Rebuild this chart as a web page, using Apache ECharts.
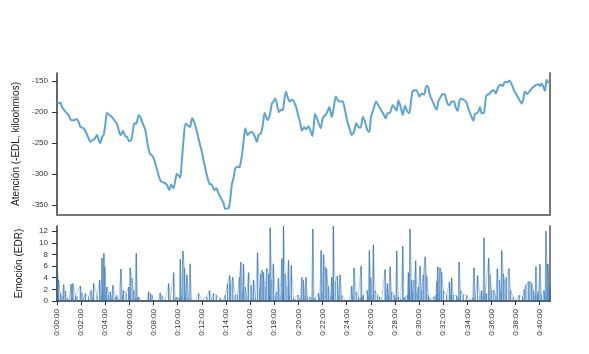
<!DOCTYPE html>
<html>
<head>
<meta charset="utf-8">
<script src="https://cdn.jsdelivr.net/npm/echarts@6/dist/echarts.min.js"></script>
<style>
  html, body { margin: 0; padding: 0; background: #fff; }
  #main { width: 589px; height: 354px; }
</style>
</head>
<body>
<div id="main"></div>
<script>
// segundos desde el inicio de la sesion
var edlSeconds = [0,17,25,41,58,70,86,96,108,116,
  132,146,157,166,179,190,199,207,215,224,
  232,240,248,262,273,285,298,311,318,328,
  339,348,359,369,378,384,394,406,414,427,
  439,447,460,477,489,505,517,533,546,558,
  568,580,588,596,604,613,621,629,638,649,
  662,671,682,696,709,720,732,745,758,770,
  782,792,803,815,828,836,853,861,869,878,
  886,898,907,914,924,936,947,957,969,980,
  994,1002,1013,1023,1032,1040,1048,1060,1068,1076,
  1085,1093,1103,1115,1123,1129,1138,1146,1156,1167,
  1176,1189,1201,1209,1217,1229,1238,1250,1262,1270,
  1278,1283,1295,1311,1321,1333,1341,1354,1366,1374,
  1386,1396,1407,1421,1432,1444,1457,1465,1477,1487,
  1498,1510,1520,1532,1543,1553,1561,1573,1586,1598,
  1609,1623,1634,1644,1656,1669,1681,1689,1697,1709,
  1719,1730,1742,1752,1760,1768,1780,1788,1802,1813,
  1825,1835,1843,1855,1868,1879,1888,1896,1908,1917,
  1929,1941,1951,1962,1974,1982,1992,2000,2009,2020,
  2033,2045,2057,2070,2078,2086,2095,2103,2111,2123,
  2133,2139,2149,2161,2172,2182,2194,2206,2216,2227,
  2239,2249,2260,2272,2285,2298,2310,2318,2326,2338,
  2348,2360,2371,2381,2393,2401,2409,2418,2426,2434,
  2442,2451];
var edlValues = [-186,-185,-192,-199,-205,-213,-213,-211,-216,-224,
  -226,-234,-242,-248,-245,-242,-237,-245,-250,-240,
  -237,-221,-201,-205,-208,-213,-219,-234,-237,-230,
  -239,-240,-247,-245,-229,-218,-219,-205,-208,-219,
  -229,-245,-266,-272,-283,-302,-312,-314,-317,-326,
  -317,-323,-310,-300,-302,-306,-277,-245,-219,-221,
  -224,-210,-216,-232,-250,-264,-283,-302,-316,-317,
  -326,-323,-331,-339,-347,-356,-355,-342,-317,-306,
  -291,-288,-289,-280,-259,-226,-237,-234,-232,-237,
  -248,-237,-235,-221,-201,-208,-213,-202,-186,-183,
  -178,-186,-200,-196,-197,-183,-167,-175,-183,-180,
  -182,-192,-208,-217,-230,-224,-228,-223,-232,-239,
  -216,-203,-213,-226,-210,-205,-202,-192,-208,-197,
  -175,-181,-183,-183,-197,-216,-229,-237,-232,-218,
  -224,-225,-208,-216,-229,-232,-208,-196,-183,-189,
  -196,-203,-210,-202,-201,-189,-194,-198,-181,-192,
  -205,-190,-199,-202,-183,-166,-165,-165,-175,-170,
  -172,-159,-158,-174,-183,-192,-196,-183,-175,-171,
  -172,-186,-189,-183,-183,-192,-198,-183,-178,-180,
  -183,-194,-205,-214,-203,-202,-199,-192,-202,-201,
  -175,-172,-171,-166,-165,-170,-159,-156,-158,-151,
  -152,-149,-155,-165,-172,-180,-186,-180,-167,-171,
  -167,-162,-159,-156,-155,-158,-154,-159,-166,-148,
  -152,-153];

var edrSeconds = [0,8,17,25,33,41,50,60,70,75,
  79,91,99,116,124,132,141,157,169,176,
  182,199,212,219,224,228,233,238,243,248,
  257,265,272,278,290,298,308,318,325,331,
  344,356,361,364,373,381,389,394,401,406,
  422,447,455,464,472,480,505,513,522,538,
  555,563,580,588,596,608,613,619,626,634,
  639,646,654,662,669,687,704,720,745,758,
  768,778,792,811,825,836,848,858,864,874,
  886,897,907,914,921,927,935,944,952,964,
  970,977,987,997,1007,1013,1020,1027,1035,1043,
  1052,1057,1060,1068,1076,1085,1093,1101,1109,1118,
  1123,1126,1134,1143,1151,1156,1165,1176,1184,1198,
  1209,1217,1225,1232,1238,1245,1258,1265,1272,1278,
  1283,1300,1306,1313,1318,1325,1333,1341,1349,1358,
  1366,1371,1374,1383,1394,1401,1407,1416,1432,1454,
  1465,1470,1477,1487,1498,1507,1512,1518,1523,1543,
  1548,1553,1560,1566,1573,1581,1593,1603,1614,1631,
  1636,1643,1649,1656,1664,1676,1682,1689,1697,1709,
  1719,1725,1730,1742,1747,1752,1755,1763,1768,1775,
  1783,1790,1797,1805,1813,1821,1830,1838,1846,1854,
  1874,1884,1888,1893,1899,1904,1912,1921,1937,1951,
  1957,1962,1970,1987,1994,1999,2007,2020,2037,2053,
  2066,2073,2080,2091,2103,2111,2118,2123,2129,2136,
  2146,2153,2161,2172,2182,2189,2199,2206,2211,2219,
  2227,2235,2247,2255,2268,2285,2298,2315,2323,2331,
  2343,2351,2360,2368,2376,2381,2388,2393,2401,2409,
  2421,2426,2431,2437,2442,2447,2451];
var edrValues = [5.7,3.6,1.3,0.9,2.8,1.7,0.5,0.2,2.9,0.6,
  3.0,1.0,0.8,2.6,1.4,0.4,1.3,0.7,1.8,0.4,
  3.0,1.0,3.6,0.8,7.4,2.0,8.2,5.9,1.0,2.4,
  1.0,1.6,0.5,2.7,0.7,1.0,0.3,5.5,0.8,1.8,
  1.3,2.4,1.0,5.7,3.9,1.8,0.5,8.2,0.6,0.7,
  0.1,0.1,1.6,1.3,1.0,0.1,0.1,1.4,0.9,0.1,
  3.0,0.3,4.9,0.5,0.7,0.5,7.2,1.0,8.6,5.6,
  0.8,4.5,0.5,6.4,0.2,0.1,1.3,0.1,0.7,1.8,
  0.3,1.3,1.0,0.5,0.1,1.0,3.0,4.4,3.0,4.1,
  1.0,1.0,4.1,6.7,1.5,6.4,2.4,0.8,4.9,2.7,
  0.5,3.6,0.6,8.3,2.1,4.7,5.3,5.0,2.4,5.6,
  4.7,1.0,12.6,3.6,6.4,1.0,1.6,3.9,1.0,7.3,
  1.5,12.9,4.7,2.4,7.0,1.0,6.1,0.5,0.3,1.0,
  0.5,4.1,3.6,0.8,4.1,0.6,0.7,0.3,12.4,0.3,
  0.5,1.3,0.6,8.7,1.5,8.0,5.9,5.6,2.5,0.8,
  4.1,1.0,12.9,3.3,4.3,1.0,4.5,1.0,0.1,0.1,
  2.6,0.8,5.7,1.6,0.7,0.5,6.0,0.8,1.0,1.8,
  0.8,8.7,4.1,1.0,9.7,1.8,1.0,0.7,0.2,5.4,
  1.0,3.0,1.0,5.9,1.6,1.0,0.5,8.6,0.7,0.3,
  9.4,0.5,0.7,1.0,4.9,1.5,12.4,3.6,1.5,3.6,
  6.9,1.5,2.4,6.0,1.8,4.5,7.6,4.4,1.0,0.4,
  0.7,1.0,3.3,5.9,1.5,5.7,5.0,1.8,1.0,3.3,
  1.0,4.0,1.0,0.9,0.5,6.7,1.8,1.1,1.0,0.2,
  0.5,5.7,0.8,4.4,1.0,1.8,0.8,10.9,1.5,1.3,
  7.4,4.5,1.8,1.8,0.8,5.5,3.6,1.5,8.7,4.7,
  3.6,4.1,5.6,1.8,0.7,0.2,1.0,0.7,2.0,2.7,
  3.3,3.4,3.0,1.8,1.0,5.9,1.0,1.6,6.3,1.0,
  1.8,1.0,12.0,6.4,6.3,2.5,2.0];

var timeTicks = [0,120,240,360,480,600,720,840,960,1080,1200,1320,1440,1560,1680,1800,1920,2040,2160,2280,2400];
var edlTicks = [-350,-300,-250,-200,-150];
var edrTicks = [0,2,4,6,8,10,12];

(function () {
  var tMax = 2451;
  var pad = function (n) { return (n < 10 ? '0' : '') + n; };
  var fmtTime = function (v) {
    v = Math.round(v);
    return Math.floor(v / 3600) + ':' + pad(Math.floor(v % 3600 / 60)) + ':' + pad(v % 60);
  };
  var pairs = function (xs, ys) {
    return xs.map(function (x, i) { return [x, ys[i]]; });
  };
  var darkAxis = { lineStyle: { color: '#333', width: 1.5 } };
  var greyAxis = { show: true, lineStyle: { color: '#777', width: 2 } };

  var option = {
    animation: false,
    backgroundColor: '#fff',
    textStyle: { fontFamily: 'Liberation Sans, Arial, sans-serif' },
    grid: [
      { left: 57, width: 493, top: 73, height: 142 },
      { left: 57, width: 493, top: 226, height: 75 }
    ],
    xAxis: [
      {
        gridIndex: 0, type: 'value', min: 0, max: tMax,
        axisLine: greyAxis, axisTick: { show: false },
        axisLabel: { show: false }, splitLine: { show: false }
      },
      {
        gridIndex: 1, type: 'value', min: 0, max: tMax,
        axisLine: darkAxis,
        axisTick: { customValues: timeTicks, length: 4, lineStyle: { color: '#333' } },
        axisLabel: {
          customValues: timeTicks, rotate: 90, fontSize: 8, color: '#333',
          margin: 8, formatter: fmtTime
        },
        splitLine: { show: false }
      }
    ],
    yAxis: [
      {
        gridIndex: 0, type: 'value', min: -366, max: -137,
        name: 'Atención (-EDL, kiloohmios)', nameLocation: 'middle', nameGap: 33,
        nameTextStyle: { fontSize: 10, color: '#222' },
        axisLine: { show: true, lineStyle: { color: '#333', width: 1.5 } },
        axisTick: { show: true, customValues: edlTicks, length: 5, lineStyle: { color: '#333' } },
        axisLabel: { customValues: edlTicks, fontSize: 8, color: '#333', margin: 9 },
        splitLine: { show: false }
      },
      {
        gridIndex: 1, type: 'value', min: 0, max: 12.9,
        name: 'Emoción (EDR)', nameLocation: 'middle', nameGap: 33,
        nameTextStyle: { fontSize: 10, color: '#222' },
        axisLine: { show: true, lineStyle: { color: '#333', width: 1.5 } },
        axisTick: { show: true, customValues: edrTicks, length: 5, lineStyle: { color: '#333' } },
        axisLabel: { customValues: edrTicks, fontSize: 8, color: '#333', margin: 9 },
        splitLine: { show: false }
      },
      {
        gridIndex: 0, type: 'value', position: 'right', min: -366, max: -137,
        axisLine: greyAxis, axisTick: { show: false }, axisLabel: { show: false },
        splitLine: { show: false }
      },
      {
        gridIndex: 1, type: 'value', position: 'right', min: 0, max: 12.9,
        axisLine: { show: true, lineStyle: { color: '#555', width: 1.5 } },
        axisTick: { show: false }, axisLabel: { show: false },
        splitLine: { show: false }
      }
    ],
    series: [
      {
        name: 'EDL', type: 'line', xAxisIndex: 0, yAxisIndex: 0,
        data: pairs(edlSeconds, edlValues),
        smooth: 0.2, showSymbol: false,
        lineStyle: { color: '#5aa6d8', width: 2 }
      },
      {
        // picos finos de la respuesta electrodermica
        name: 'EDR', type: 'bar', xAxisIndex: 1, yAxisIndex: 1,
        data: pairs(edrSeconds, edrValues),
        barWidth: 1.3,
        itemStyle: { color: 'rgba(34,106,176,0.7)' }
      },
      {
        name: 'EDR base', type: 'line', xAxisIndex: 1, yAxisIndex: 1,
        data: pairs(edrSeconds, edrValues),
        showSymbol: false,
        lineStyle: { color: '#1f68ae', width: 0.6, opacity: 0.55 }
      }
    ]
  };

  var myChart = echarts.init(document.getElementById('main'));
  myChart.setOption(option);
})();
</script>
</body>
</html>
